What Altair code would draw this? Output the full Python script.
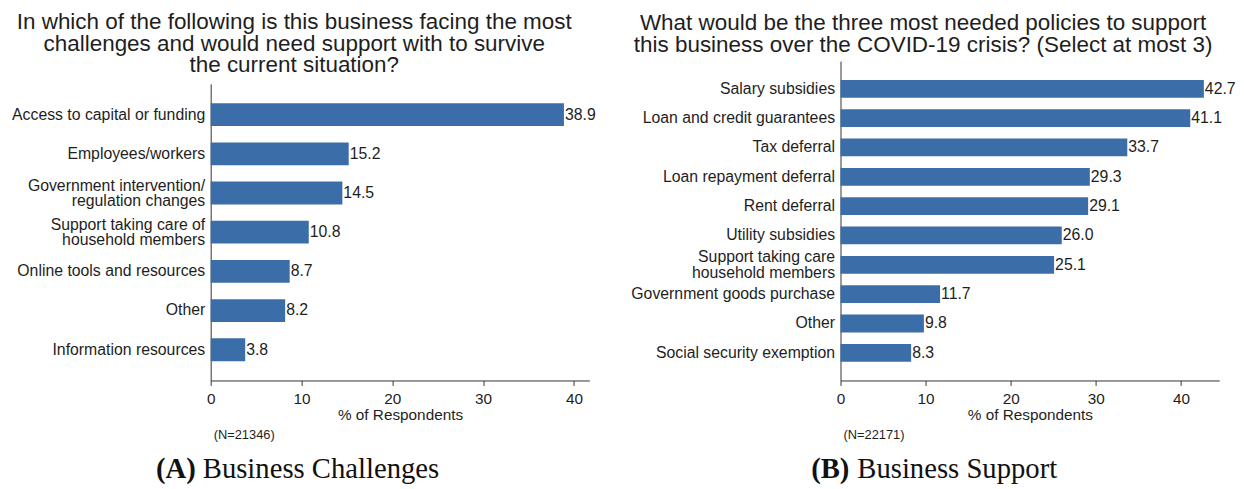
import altair as alt
import pandas as pd

# ---- data ----
challenges = [
    "Access to capital or funding",
    "Employees/workers",
    "Government intervention/|regulation changes",
    "Support taking care of|household members",
    "Online tools and resources",
    "Other",
    "Information resources",
]
challenge_pct = [38.9, 15.2, 14.5, 10.8, 8.7, 8.2, 3.8]

policies = [
    "Salary subsidies",
    "Loan and credit guarantees",
    "Tax deferral",
    "Loan repayment deferral",
    "Rent deferral",
    "Utility subsidies",
    "Support taking care|household members",
    "Government goods purchase",
    "Other",
    "Social security exemption",
]
policy_pct = [42.7, 41.1, 33.7, 29.3, 29.1, 26.0, 25.1, 11.7, 9.8, 8.3]

title_a = [
    "In which of the following is this business facing the most",
    "challenges and would need support with to survive",
    "the current situation?",
]
title_b = [
    "What would be the three most needed policies to support",
    "this business over the COVID-19 crisis? (Select at most 3)",
]
n_notes = ["(N=21346)", "(N=22171)"]
caption_tags = ["(A)", "(B)"]
caption_names = ["Business Challenges", "Business Support"]
axis_title = "% of Respondents"
x_ticks = [0, 10, 20, 30, 40]

# ---- style ----
BAR = "#3b6ea8"
INK = "#1e1e1e"
AXIS = "#333333"
SANS = "Liberation Sans"
SERIF = "Liberation Serif"
PLOT_W = 383
PLOT_H = 323
LAB = 16


def panel(cats, vals, title, note, tag, name, y_range, x_max, p_inner, p_outer,
          title_dx, title_dy, tag_x, name_x):
    df = pd.DataFrame({"cat": cats, "pct": vals})
    y_enc = alt.Y(
        "cat:N", sort=cats, title=None,
        scale=alt.Scale(paddingInner=p_inner, paddingOuter=p_outer, range=y_range),
        axis=alt.Axis(
            labelExpr="split(datum.label, '|')",
            labelFont=SANS, labelFontSize=LAB, labelColor=INK,
            labelLineHeight=15.5, labelLimit=400, labelPadding=6,
            labelOffset={"condition": {"test": "indexof(datum.value, '|') >= 0",
                                       "value": -7.5}, "value": 0},
            ticks=False, domain=True, domainColor=AXIS, domainWidth=1,
            grid=False,
        ),
    )
    x_enc = alt.X(
        "pct:Q",
        scale=alt.Scale(domain=[0, x_max], nice=False, zero=True),
        axis=alt.Axis(
            values=x_ticks, title=axis_title, grid=False,
            labelFont=SANS, labelFontSize=15.5, labelColor=INK,
            labelPadding=6, labelFlush=False,
            ticks=True, tickSize=5, tickColor=AXIS,
            domain=True, domainColor=AXIS, domainWidth=1,
            titleFont=SANS, titleFontSize=15.5, titleFontWeight="normal",
            titleColor=INK, titlePadding=1,
        ),
    )
    bars = alt.Chart(df).mark_bar(color=BAR).encode(x=x_enc, y=y_enc)
    values = alt.Chart(df).mark_text(
        align="left", baseline="middle", dx=1, fontSize=16, font=SANS, color=INK
    ).encode(
        x="pct:Q", y=alt.Y("cat:N", sort=cats),
        text=alt.Text("pct:Q", format=".1f"),
    )
    note_mark = alt.Chart(pd.DataFrame({"t": [note]})).mark_text(
        align="left", baseline="middle", fontSize=13, font=SANS, color=INK
    ).encode(x=alt.value(3), y=alt.value(PLOT_H + 55), text="t:N")
    tag_mark = alt.Chart(pd.DataFrame({"t": [tag]})).mark_text(
        align="right", baseline="alphabetic", fontSize=29, font=SERIF,
        fontWeight="bold", color="#111111"
    ).encode(x=alt.value(tag_x), y=alt.value(PLOT_H + 99), text="t:N")
    name_mark = alt.Chart(pd.DataFrame({"t": [name]})).mark_text(
        align="left", baseline="alphabetic", fontSize=29, font=SERIF,
        color="#111111"
    ).encode(x=alt.value(name_x), y=alt.value(PLOT_H + 99), text="t:N")
    return alt.layer(bars, values, note_mark, tag_mark, name_mark).properties(
        width=PLOT_W,
        height=PLOT_H,
        title=alt.TitleParams(
            text=title, anchor="middle", frame="group", dx=title_dx, dy=title_dy,
            fontSize=22.7, font=SANS, fontWeight="normal", color=INK,
            lineHeight=22, offset=4,
        ),
    )


left = panel(challenges, challenge_pct, title_a, n_notes[0], caption_tags[0],
             caption_names[0], [23, 323], 41.7, 0.418, 0.494, -107, 20, -15, -8)
right = panel(policies, policy_pct, title_b, n_notes[1], caption_tags[1],
              caption_names[1], [0, 323], 44.5, 0.393, 0.64, -108, -1, 9, 17)

chart = alt.hconcat(left, right, spacing=34).properties(
    padding={"left": 3, "top": 0, "right": 0, "bottom": 0},
    background="white",
).configure_view(stroke=None)

chart.save("out.html", embed_options={"renderer": "svg", "actions": False})
